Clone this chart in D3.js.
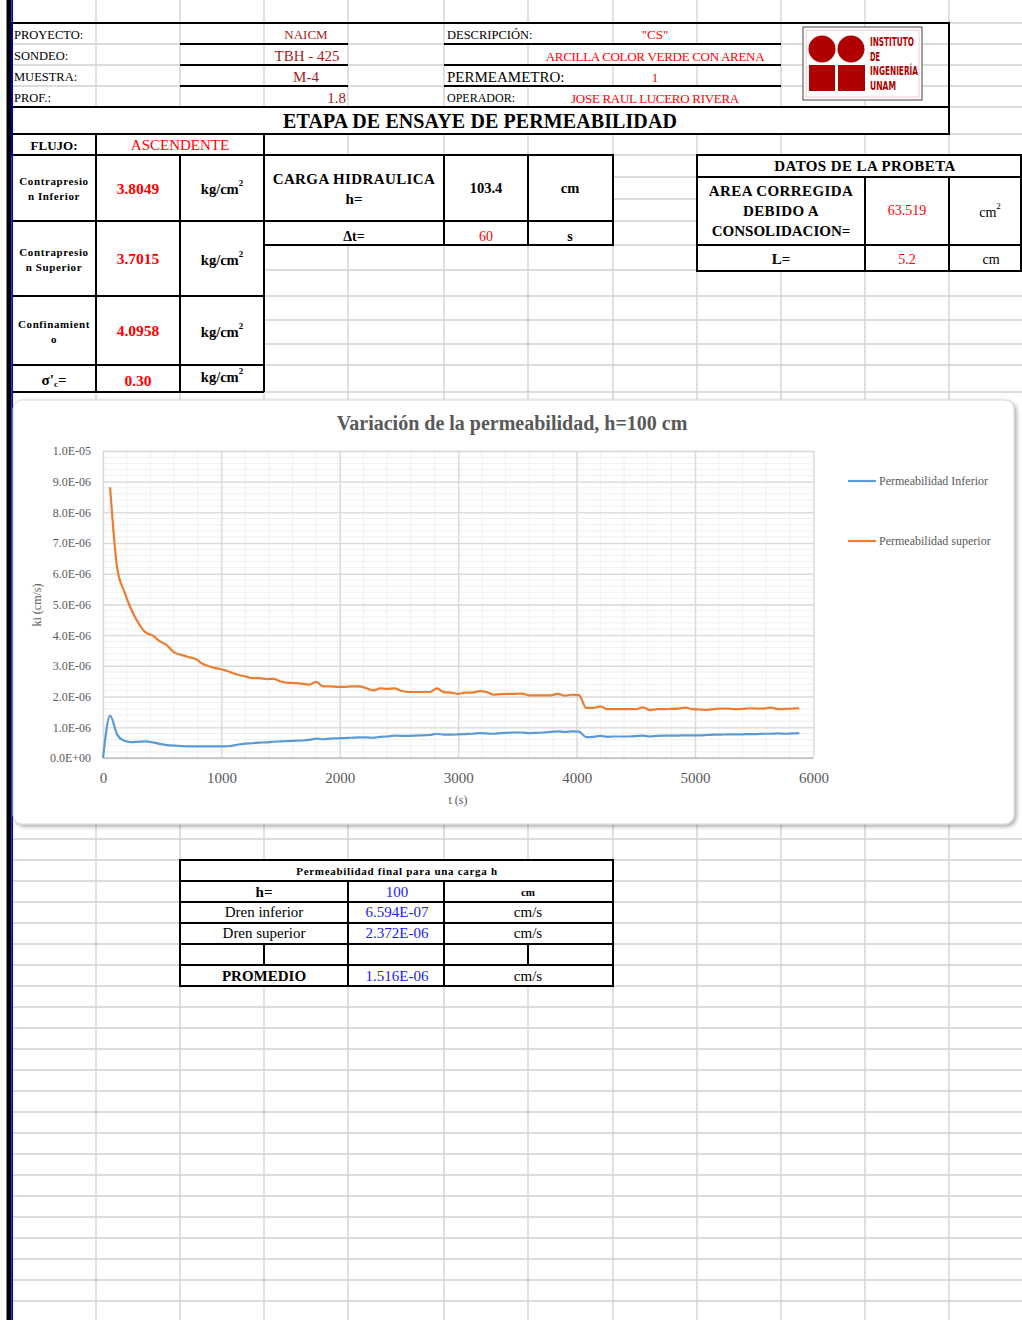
<!DOCTYPE html>
<html><head><meta charset="utf-8">
<script src="https://cdn.jsdelivr.net/npm/d3@7"></script>
<style>body{margin:0;background:#fff}svg{display:block}</style>
</head><body><div id="root"></div>
<script>
// ---------------- DATA ----------------
const timeSec = [0,60,120,180,240,300,360,420,480,540,600,660,720,780,840,900,960,1020,1080,1140,1200,1260,1320,1380,1440,1500,1560,1620,1680,1740,1800,1860,1920,1980,2040,2100,2160,2220,2280,2340,2400,2460,2520,2580,2640,2700,2760,2820,2880,2940,3000,3060,3120,3180,3240,3300,3360,3420,3480,3540,3600,3660,3720,3780,3840,3900,3960,4020,4080,4140,4200,4260,4320,4380,4440,4500,4560,4620,4680,4740,4800,4860,4920,4980,5040,5100,5160,5220,5280,5340,5400,5460,5520,5580,5640,5700,5760,5820,5880];
// values in 1E-06 cm/s
const kInferior = [0,1.38,0.76,0.56,0.52,0.53,0.54,0.51,0.46,0.42,0.40,0.39,0.38,0.38,0.38,0.38,0.38,0.38,0.39,0.44,0.47,0.48,0.50,0.51,0.53,0.54,0.55,0.56,0.57,0.59,0.63,0.61,0.63,0.64,0.65,0.66,0.67,0.67,0.66,0.69,0.70,0.73,0.72,0.72,0.73,0.74,0.75,0.79,0.76,0.76,0.77,0.78,0.79,0.81,0.80,0.79,0.81,0.82,0.83,0.83,0.81,0.82,0.83,0.85,0.87,0.85,0.87,0.86,0.68,0.69,0.72,0.69,0.70,0.70,0.70,0.71,0.73,0.70,0.72,0.73,0.73,0.73,0.74,0.74,0.74,0.75,0.76,0.76,0.77,0.77,0.77,0.78,0.78,0.79,0.79,0.80,0.79,0.80,0.81];
const kSuperior = [null,8.82,6.18,5.42,4.83,4.39,4.09,3.99,3.80,3.67,3.44,3.36,3.29,3.23,3.07,2.98,2.92,2.87,2.79,2.71,2.66,2.60,2.60,2.57,2.58,2.49,2.45,2.44,2.42,2.39,2.48,2.33,2.33,2.32,2.32,2.33,2.33,2.28,2.20,2.27,2.25,2.27,2.19,2.15,2.15,2.15,2.15,2.27,2.14,2.13,2.09,2.13,2.13,2.18,2.15,2.06,2.08,2.09,2.09,2.10,2.04,2.04,2.04,2.04,2.09,2.03,2.06,2.05,1.63,1.63,1.68,1.59,1.59,1.59,1.59,1.59,1.65,1.56,1.59,1.59,1.60,1.61,1.64,1.59,1.58,1.57,1.59,1.61,1.61,1.59,1.60,1.62,1.61,1.61,1.64,1.59,1.60,1.61,1.62];
const seriesNames = ["Permeabilidad Inferior","Permeabilidad superior"];
const xTicks = [0,1000,2000,3000,4000,5000,6000];
const yTicksE6 = [0,1,2,3,4,5,6,7,8,9,10];
const chartTitle = "Variación de la permeabilidad, h=100 cm";
const xTitle = "t (s)", yTitle = "ki (cm/s)";

const headerLabels = ["PROYECTO:","SONDEO:","MUESTRA:","PROF.:"];
const headerValues = ["NAICM","TBH - 425","M-4","1.8"];
const headerRightLabels = ["DESCRIPCIÓN:","","PERMEAMETRO:","OPERADOR:"];
const headerRightValues = ['"CS"',"ARCILLA COLOR VERDE CON ARENA","1","JOSE RAUL LUCERO RIVERA"];
const sheetTitle = "ETAPA DE ENSAYE DE PERMEABILIDAD";
const pressLabels = [["Contrapresio","n Inferior"],["Contrapresio","n Superior"],["Confinamient","o"]];
const pressValues = ["3.8049","3.7015","4.0958"];
const sigmaValue = "0.30";
const cargaH = "103.4", deltaT = "60";
const areaCorr = "63.519", lengthL = "5.2";
const finalRows = [["h=","100","cm"],["Dren inferior","6.594E-07","cm/s"],["Dren superior","2.372E-06","cm/s"],["","",""],["PROMEDIO","1.516E-06","cm/s"]];
const logoLines = ["INSTITUTO","DE","INGENIERÍA","UNAM"];

// ---------------- LAYOUT ----------------
const W=1022,H=1320;
const SERIF = "'Liberation Serif','Times New Roman',serif";
const svg = d3.select('#root').append('svg').attr('width',W).attr('height',H);
const defs = svg.append('defs');
const f = defs.append('filter').attr('id','sh').attr('x','-5%').attr('y','-5%').attr('width','110%').attr('height','115%');
f.append('feDropShadow').attr('dx',2).attr('dy',2).attr('stdDeviation',2).attr('flood-color','#000').attr('flood-opacity',0.35);

const COLS=[96,180,264,348,444,528,613,697,781,865,949];
const ROWS=[23,44,65,86,107,134,155,177,199,221,245,270,296,320,344,365,392].concat(d3.range(839,1330,21));
const G = svg.append('g');
COLS.forEach(x=>G.append('line').attr('x1',x).attr('x2',x).attr('y1',0).attr('y2',H).attr('stroke','#d0d0d0').attr('stroke-width',1.3));
ROWS.forEach(y=>G.append('line').attr('x1',12).attr('x2',W).attr('y1',y).attr('y2',y).attr('stroke','#d0d0d0').attr('stroke-width',1.3));

function cover(x,y,w,h){svg.append('rect').attr('x',x).attr('y',y).attr('width',w).attr('height',h).attr('fill','#fff');}
cover(13,108,935,25);
cover(13,135,250,256);
cover(265,156,347,88);
cover(698,156,324,114);
cover(181,861,431,124);
cover(445,24,167,20);
cover(529,45,251,20);
cover(445,66,167,20);
cover(529,87,251,19);

function L(x1,y1,x2,y2,w){svg.append('line').attr('x1',x1).attr('y1',y1).attr('x2',x2).attr('y2',y2).attr('stroke','#000').attr('stroke-width',w||2);}
function R(x,y,w,h){svg.append('rect').attr('x',x).attr('y',y).attr('width',w).attr('height',h).attr('fill','none').attr('stroke','#000').attr('stroke-width',2);}
function T(x,y,s,o){o=o||{};const t=svg.append('text').attr('x',x).attr('y',y).attr('font-family',o.ff||SERIF).attr('font-size',o.size||13).attr('font-weight',o.bold?'bold':'normal').attr('fill',o.color||'#000').attr('text-anchor',o.anchor||'middle').attr('dominant-baseline','central').text(s); if(o.ls) t.attr('letter-spacing',o.ls); return t;}
function sup(t,s){t.append('tspan').attr('dy',-6).attr('font-size',9).text(s);}

// header box
R(12,23,937,111);
L(12,107,949,107);
[44,65,86].forEach(y=>{L(180,y,348,y);});
L(444,44,781,44); L(528,65,781,65); L(444,86,781,86); L(444,65,528,65);
const hy=[34.5,56,77,98];
headerLabels.forEach((s,i)=>T(14,hy[i],s,{anchor:'start',size:12.5}));
const hvx=[306,307,306,346];
headerValues.forEach((s,i)=>T(hvx[i],hy[i],s,{anchor:i==3?'end':'middle',size:i==0?13:15,color:'#a51c1c'}));
const hrSize=[12.5,13,15,12];
headerRightLabels.forEach((s,i)=>T(447,hy[i],s,{anchor:'start',size:hrSize[i]}));
headerRightValues.forEach((s,i)=>T(655,hy[i],s,{size:13,color:'#ff0000',ls:i==1||i==3?-0.3:0}));
T(480,121,sheetTitle,{size:20,bold:true,ls:0.1});

// logo
const lg = svg.append('g');
lg.append('rect').attr('x',803).attr('y',27).attr('width',119).attr('height',73).attr('fill','#fff').attr('stroke','#444').attr('stroke-width',1);
lg.append('rect').attr('x',806).attr('y',30).attr('width',113).attr('height',67).attr('fill','none').attr('stroke','#f3caca').attr('stroke-width',1);
const red='#b00000';
lg.append('circle').attr('cx',822).attr('cy',49).attr('r',13.5).attr('fill',red);
lg.append('circle').attr('cx',851).attr('cy',49).attr('r',13.5).attr('fill',red);
lg.append('rect').attr('x',809).attr('y',65).attr('width',26).attr('height',26).attr('fill',red);
lg.append('rect').attr('x',838).attr('y',65).attr('width',27).attr('height',26).attr('fill',red);
const lw=[44,10,48,26];
logoLines.forEach((s,i)=>lg.append('text').attr('x',870).attr('y',42+i*14.7).attr('dominant-baseline','central').attr('font-family',"'DejaVu Sans Condensed','DejaVu Sans',sans-serif").attr('font-weight','bold').attr('font-size',12).attr('fill',red).attr('textLength',lw[i]).attr('lengthAdjust','spacingAndGlyphs').text(s));

// FLUJO row & left block
R(12,134,252,21); L(96,134,96,155);
T(54,145,"FLUJO:",{size:13,bold:true});
T(180,145,"ASCENDENTE",{size:15,color:'#ff0000'});
[96,180,264].forEach(x=>L(x,155,x,392));
[155,221,296,365,392].forEach(y=>L(12,y,264,y));
const prow=[[155,221],[221,296],[296,365]];
prow.forEach((r,i)=>{
  const c=(r[0]+r[1])/2;
  T(54,c-7,pressLabels[i][0],{size:11,bold:true,ls:0.6});
  T(54,c+8,pressLabels[i][1],{size:11,bold:true,ls:0.6});
  T(138,c,pressValues[i],{size:15.5,bold:true,color:'#ff0000'});
  const t=T(222,c+1,"kg/cm",{size:14.5,bold:true}); sup(t,"2");
});
const sg=T(54,380,"σ'",{size:15,bold:true});
sg.append('tspan').attr('dy',4).attr('font-size',9).text('c');
sg.append('tspan').attr('dy',-4).text('=');
T(138,380,sigmaValue,{size:15.5,bold:true,color:'#ff0000'});
const kt=T(222,377,"kg/cm",{size:14.5,bold:true}); sup(kt,"2");

// CARGA box
R(264,155,349,90); L(264,221,613,221); L(444,155,444,245); L(528,155,528,245);
T(354,179,"CARGA HIDRAULICA",{size:15,bold:true,ls:0.4});
T(354,199,"h=",{size:15,bold:true});
T(486,188,cargaH,{size:14.5,bold:true});
T(570,188,"cm",{size:14.5,bold:true});
T(354,236,"Δt=",{size:14,bold:true});
T(486,236,deltaT,{size:14,color:'#ff0000'});
T(570,236,"s",{size:14,bold:true});

// Datos de la probeta
R(697,155,324,116); L(697,177,1021,177); L(697,245,1021,245); L(865,177,865,271); L(949,177,949,271);
T(865,166,"DATOS DE LA PROBETA",{size:15,bold:true,ls:0.4});
T(781,191,"AREA CORREGIDA",{size:15,bold:true,ls:0.4});
T(781,211,"DEBIDO A",{size:15,bold:true,ls:0.4});
T(781,231,"CONSOLIDACION=",{size:15,bold:true});
T(907,210,areaCorr,{size:14,color:'#ff0000'});
const cu=T(990,212,"cm",{size:14}); sup(cu,"2");
T(781,259,"L=",{size:15,bold:true});
T(907,259,lengthL,{size:14,color:'#ff0000'});
T(991,259,"cm",{size:14});

// final table
R(180,860,433,126);
[881,902,923,944,965].forEach(y=>L(180,y,613,y));
L(348,881,348,986); L(444,881,444,986); L(264,944,264,965); L(528,944,528,965);
T(397,870.5,"Permeabilidad final para una carga h",{size:11,bold:true,ls:0.7});
const fy=[891.5,912,933,954.5,975.5];
finalRows.forEach((r,i)=>{
  T(264,fy[i],r[0],{size:15,bold:(i==0||i==4)});
  T(397,fy[i],r[1],{size:15,color:'#1a1aff'});
  T(528,fy[i],r[2],i==0?{size:11,bold:true}:{size:15});
});

// left edge bars
svg.append('rect').attr('x',6.5).attr('y',0).attr('width',4.5).attr('height',H).attr('fill','#000');
svg.append('rect').attr('x',11.2).attr('y',0).attr('width',1.8).attr('height',H).attr('fill','#0000cc');

// ---------------- CHART ----------------
const C = svg.append('g');
C.append('rect').attr('x',13).attr('y',400).attr('width',1001).attr('height',424).attr('rx',9).attr('fill','#fff').attr('stroke','#d9d9d9').attr('filter','url(#sh)');
C.append('text').attr('x',512).attr('y',423).attr('text-anchor','middle').attr('dominant-baseline','central').attr('font-family',SERIF).attr('font-weight','bold').attr('font-size',20).attr('fill','#595959').text(chartTitle);

const x = d3.scaleLinear().domain([0,6000]).range([103,813.5]);
const y = d3.scaleLinear().domain([0,10]).range([758,451]);
const minorX = d3.range(0,31).map(i=>i*200);
const minorY = d3.range(0,51).map(i=>i*0.2);
const gMinor = C.append('g');
gMinor.selectAll('.mx').data(minorX).join('line').attr('x1',d=>x(d)).attr('x2',d=>x(d)).attr('y1',451).attr('y2',758).attr('stroke','#f0f0f0').attr('stroke-width',1);
gMinor.selectAll('.my').data(minorY).join('line').attr('x1',103).attr('x2',813.5).attr('y1',d=>y(d)).attr('y2',d=>y(d)).attr('stroke','#f0f0f0').attr('stroke-width',1);
const gx = C.append('g').attr('transform','translate(0,758)').call(d3.axisBottom(x).tickValues(xTicks).tickSize(-307).tickFormat(d3.format('d')).tickPadding(14));
const gy = C.append('g').attr('transform','translate(103,0)').call(d3.axisLeft(y).tickValues(yTicksE6).tickSize(-710.5).tickPadding(12).tickFormat(d=>{const v=d*1e-6; if(v===0) return "0.0E+00"; const [m,e]=v.toExponential(1).split('e'); const n=parseInt(e,10); return m+"E"+(n<0?"-":"+")+String(Math.abs(n)).padStart(2,'0');}));
[gx,gy].forEach(g=>{g.select('.domain').remove(); g.selectAll('line').attr('stroke','#d9d9d9').attr('stroke-width',1.3); g.selectAll('text').attr('font-family',SERIF).attr('fill','#595959');});
gx.selectAll('text').attr('font-size',15);
gy.selectAll('text').attr('font-size',12);
C.append('line').attr('x1',103).attr('x2',813.5).attr('y1',758).attr('y2',758).attr('stroke','#bfbfbf').attr('stroke-width',1.3);

const colors=['#5b9bd5','#ed7d31'];
const series=[kInferior,kSuperior];
const line = d3.line().defined(d=>d[1]!=null).x(d=>x(d[0])).y(d=>y(d[1])).curve(d3.curveMonotoneX);
series.forEach((s,i)=>{
  C.append('path').datum(timeSec.map((t,j)=>[t,s[j]])).attr('d',line).attr('fill','none').attr('stroke',colors[i]).attr('stroke-width',2.2).attr('stroke-linejoin','round');
});
C.append('text').attr('x',458).attr('y',800).attr('text-anchor','middle').attr('dominant-baseline','central').attr('font-family',SERIF).attr('font-size',12).attr('fill','#595959').text(xTitle);
C.append('text').attr('transform','translate(37,605) rotate(-90)').attr('text-anchor','middle').attr('dominant-baseline','central').attr('font-family',SERIF).attr('font-size',12).attr('fill','#595959').text(yTitle);
const legY=[481,541];
seriesNames.forEach((s,i)=>{
  C.append('line').attr('x1',848).attr('x2',876).attr('y1',legY[i]).attr('y2',legY[i]).attr('stroke',colors[i]).attr('stroke-width',2.2);
  C.append('text').attr('x',879).attr('y',legY[i]).attr('dominant-baseline','central').attr('font-family',SERIF).attr('font-size',12).attr('fill','#595959').text(s);
});
</script>
</body></html>
